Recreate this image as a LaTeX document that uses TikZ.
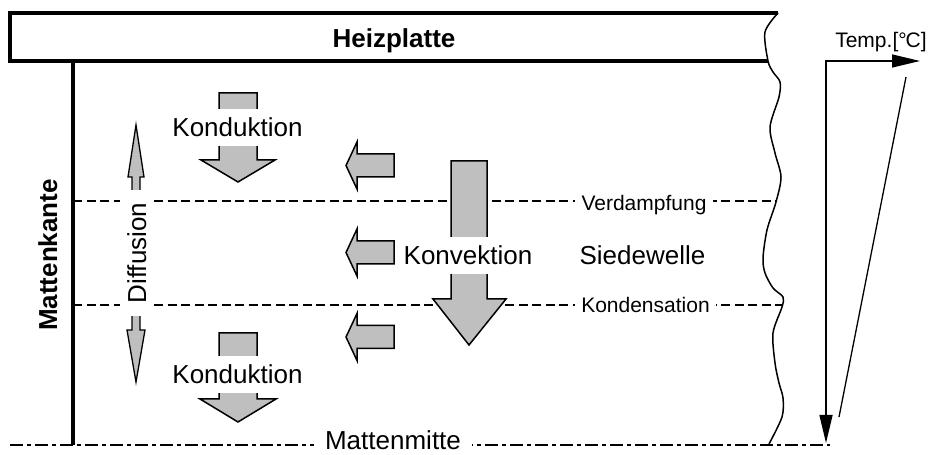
\documentclass[tikz,border=0pt]{standalone}
\usepackage{fontspec}
\setmainfont{Liberation Sans}
\usetikzlibrary{arrows.meta}
\definecolor{arrowgray}{gray}{0.75}
\tikzset{
  big/.style={font=\fontsize{26bp}{30bp}\selectfont},
  bigbold/.style={font=\fontsize{26bp}{30bp}\selectfont\bfseries},
  small/.style={font=\fontsize{21bp}{25bp}\selectfont},
  blockarrow/.style={draw=black, fill=arrowgray, line width=1.5bp, line join=miter},
  cutlabel/.style={fill=white, inner xsep=0bp, inner ysep=9bp},
  heavyline/.style={line width=3.5bp, line join=miter},
  thinline/.style={line width=1.5bp},
  phaseline/.style={line width=1.3bp, dash pattern=on 9bp off 4.5bp},
  midline/.style={line width=1.3bp, dash pattern=on 13bp off 4bp on 4bp off 4bp},
  axis/.style={line width=1.3bp},
  axtip/.tip={Triangle[length=28bp,width=13bp]}
}
\begin{document}
\begin{tikzpicture}[x=1bp,y=-1bp]
\useasboundingbox (0,0) rectangle (929,455);

% heating plate and mat edge
\draw[heavyline] (778,13) -- (10,13) -- (10,61) -- (768,61);
\draw[heavyline] (73,61) -- (73,445);
\node[bigbold, anchor=base] (plate) at (394,48) {Heizplatte};
\node[bigbold, rotate=90, anchor=base] (edge) at (57,255) {Mattenkante};

% broken-off right edge
\draw[thinline] plot[smooth, tension=0.5] coordinates {
  (778,13) (765,32) (768,61) (773,72) (780,82) (779,97) (770,127)
  (775,153) (781,177) (776,202) (767,230) (763,258) (765,273)
  (773,288) (783,297) (782,307) (773,333) (775,363) (779,383)
  (783,398) (782,417) (769,444)};

% phase boundaries and mat centre line
\draw[phaseline] (73,201) -- (776,201);
\draw[phaseline] (73,305) -- (782,305);
\draw[midline] (10,445) -- (830,445);
\node[big, anchor=base, fill=white, inner xsep=11bp, inner ysep=0.5bp] (mid) at (393,449) {Mattenmitte};
\node[small, anchor=base, fill=white, inner xsep=7bp, inner ysep=1bp] (evap) at (644,211) {Verdampfung};
\node[small, anchor=base, fill=white, inner xsep=6bp, inner ysep=1bp] (cond) at (645.5,313) {Kondensation};

% conduction arrows
\draw[blockarrow] (219,93) -- (257,93) -- (257,160) -- (275,160) -- (238,182)
  -- (201,160) -- (219,160) -- cycle;
\node[big, anchor=base, cutlabel] (condtop) at (237.5,137) {Konduktion};
\draw[blockarrow] (219,333) -- (257,333) -- (257,399) -- (276,399) -- (238,422)
  -- (200,399) -- (219,399) -- cycle;
\node[big, anchor=base, cutlabel] (condbot) at (237.5,384) {Konduktion};

% convection arrow
\draw[blockarrow] (451,161) -- (487,161) -- (487,299) -- (506,299) -- (469,345)
  -- (433,299) -- (451,299) -- cycle;
\node[big, anchor=base, cutlabel] (conv) at (468,265) {Konvektion};
\node[big, anchor=base] (wave) at (642.5,265) {Siedewelle};

% lateral heat flow towards the mat edge
\foreach \c in {165.5,252.5,337}{
  \draw[blockarrow] (346,\c) -- (357,\c-23.5) -- (357,\c-11.5) -- (394,\c-11.5)
    -- (394,\c+11.5) -- (357,\c+11.5) -- (357,\c+23.5) -- cycle;
}

% diffusion double arrow
\draw[blockarrow, line width=1.3bp] (136,125) -- (144,177) -- (140,177) -- (140,330) -- (145,330)
  -- (136,382) -- (127,330) -- (132,330) -- (132,177) -- (128,177) -- cycle;
\node[big, rotate=90, anchor=base, fill=white, inner xsep=13bp, inner ysep=7bp] (diff) at (146,253) {Diffusion};

% temperature profile
\coordinate (tO) at (826,61);
\coordinate (tX) at (920,61);
\coordinate (tY) at (826,443);
\draw[axis, axtip-axtip] (tY) -- (tO) -- (tX);
\node[small, anchor=base] (tlabel) at (881,48) {Temp.[°\kern-1bp C]};
\coordinate (pTop) at (906,77);
\coordinate (pBot) at (839,417);
\draw[axis] (pTop) -- (pBot);
\end{tikzpicture}
\end{document}
